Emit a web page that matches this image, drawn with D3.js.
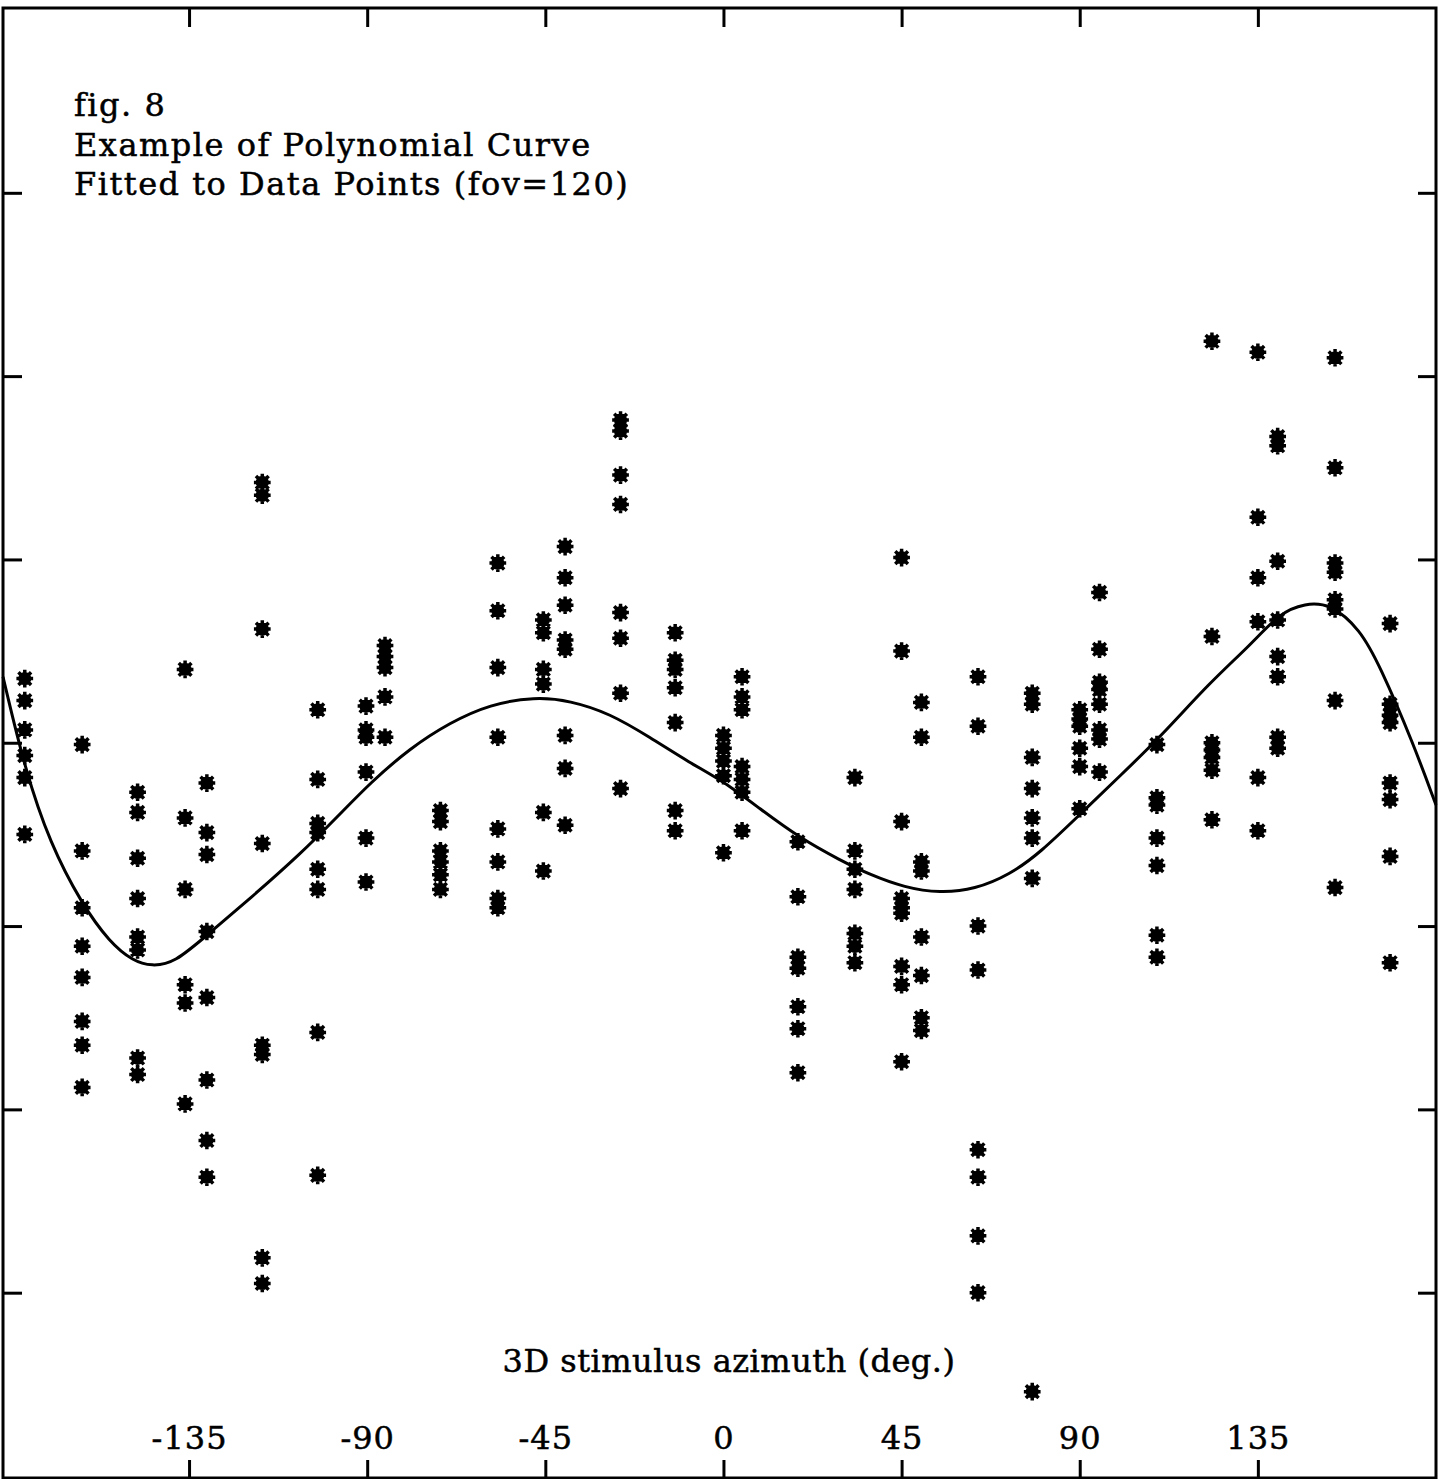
<!DOCTYPE html>
<html>
<head>
<meta charset="utf-8">
<script src="https://cdn.jsdelivr.net/npm/d3@7"></script>
<style>
  body { margin: 0; background: #fff; }
  svg { display: block; }
  text { font-family: "DejaVu Serif", serif; fill: #000; }
</style>
</head>
<body>
<svg width="1438" height="1479"></svg>
<script>
// tick positions on the azimuth axis and their printed labels
var xTicks = [-135, -90, -45, 0, 45, 90, 135];
var xTickLabels = ["-135", "-90", "-45", "0", "45", "90", "135"];
// the vertical axis carries unlabelled ticks only
var yTicks = [1, 2, 3, 4, 5, 6, 7];

var titleLines = ["fig. 8", "Example of Polynomial Curve", "Fitted to Data Points (fov=120)"];
var xTitle = "3D stimulus azimuth (deg.)";

// stimulus azimuths (deg.) for each column of data points, as placed in the plot
var azimuths = [-176.5, -162, -148, -136, -130.5, -116.5, -102.5, -90.3, -85.5, -71.5, -57, -45.5, -40, -26, -12.2,
                0, 4.7, 18.8, 33.2, 45, 50, 64.3, 78, 90, 95, 109.5, 123.4, 135, 140, 154.5, 168.4];

// response values, one list per azimuth column
var responses = [
  [4.35, 4.23, 4.07, 3.93, 3.81, 3.50],
  [3.99, 3.41, 3.10, 2.89, 2.72, 2.48, 2.35, 2.12],
  [3.73, 3.62, 3.37, 3.15, 2.94, 2.87, 2.28, 2.19],
  [4.40, 3.59, 3.20, 2.68, 2.58, 2.03],
  [3.78, 3.51, 3.39, 2.97, 2.61, 2.16, 1.83, 1.63],
  [5.42, 5.35, 4.62, 3.45, 2.35, 2.30, 1.19, 1.05],
  [4.18, 3.80, 3.56, 3.51, 3.31, 3.20, 2.42, 1.64],
  [4.20, 4.07, 4.03, 3.84, 3.48, 3.24],
  [4.53, 4.47, 4.41, 4.25, 4.03],
  [3.63, 3.57, 3.41, 3.35, 3.28, 3.20],
  [4.98, 4.72, 4.41, 4.03, 3.53, 3.35, 3.15, 3.10],
  [4.67, 4.60, 4.40, 4.32, 3.62, 3.30],
  [5.07, 4.90, 4.75, 4.56, 4.51, 4.04, 3.86, 3.55],
  [5.76, 5.70, 5.46, 5.30, 4.71, 4.57, 4.27, 3.75],
  [4.60, 4.45, 4.40, 4.30, 4.11, 3.63, 3.52],
  [4.04, 3.97, 3.90, 3.82, 3.40],
  [4.36, 4.25, 4.18, 3.87, 3.80, 3.73, 3.52],
  [3.46, 3.16, 2.83, 2.77, 2.56, 2.44, 2.20],
  [3.81, 3.41, 3.31, 3.20, 2.96, 2.89, 2.80],
  [5.01, 4.50, 3.57, 3.15, 3.10, 3.07, 2.78, 2.68, 2.26],
  [4.22, 4.03, 3.35, 3.30, 2.94, 2.73, 2.50, 2.43],
  [4.36, 4.09, 3.00, 2.76, 1.78, 1.63, 1.31, 1.00],
  [4.27, 4.21, 3.92, 3.75, 3.59, 3.48, 3.26, 0.46],
  [4.18, 4.13, 4.09, 3.97, 3.87, 3.64],
  [4.82, 4.51, 4.33, 4.29, 4.21, 4.07, 4.02, 3.84],
  [3.99, 3.70, 3.66, 3.48, 3.33, 2.95, 2.83],
  [6.19, 4.58, 4.00, 3.96, 3.92, 3.85, 3.58],
  [6.13, 5.23, 4.90, 4.66, 3.81, 3.52],
  [5.67, 5.62, 4.99, 4.67, 4.47, 4.36, 4.03, 3.97],
  [6.10, 5.50, 4.98, 4.93, 4.78, 4.73, 4.23, 3.21],
  [4.65, 4.21, 4.15, 4.11, 3.78, 3.69, 3.38, 2.80]
];

// fitted polynomial curve
var curveAz = [-182, -176.4, -170.1, -162.1, -155, -149.2, -144.4, -138.6, -130.5, -119.6, -107, -96.9,
               -89.3, -79.2, -69.1, -59, -47.6, -38.8, -28.7, -18.6, -8.5, 0, 9.2, 19.3, 29.4, 37,
               45.8, 54.7, 63.5, 72.3, 80, 90.1, 100.2, 110.3, 122.9, 133, 140.6, 146.9, 153.2,
               160.8, 165.8, 174.2, 180];
var curveVal = [4.36, 3.85, 3.45, 3.12, 2.91, 2.81, 2.78, 2.80, 2.95, 3.15, 3.39, 3.61,
                3.78, 3.97, 4.11, 4.21, 4.25, 4.23, 4.16, 4.03, 3.89, 3.79, 3.64, 3.48, 3.36, 3.28,
                3.21, 3.18, 3.20, 3.28, 3.40, 3.61, 3.82, 4.03, 4.33, 4.53, 4.71, 4.76, 4.76,
                4.62, 4.42, 4.00, 3.66];

var svg = d3.select("svg");

// plot frame edges (note: "top" is reserved on window, so use other names)
var frameL = 3, frameR = 1436, frameT = 8, frameB = 1478;

var xScale = d3.scaleLinear().domain([-182, 180]).range([frameL, frameR]);
var yScale = d3.scaleLinear().domain([0, 8]).range([1476, 9.5]);

// heavy eight-spoked asterisk like the plotter marks
var asterisk = {
  draw: function(ctx, size) {
    var r = Math.sqrt(size) / 2;
    var d = r * 0.72;
    ctx.moveTo(0, -r); ctx.lineTo(0, r);
    ctx.moveTo(-r * 0.95, 0); ctx.lineTo(r * 0.95, 0);
    ctx.moveTo(-d, -d); ctx.lineTo(d, d);
    ctx.moveTo(-d, d); ctx.lineTo(d, -d);
    ctx.moveTo(r * 0.55, 0);
    ctx.arc(0, 0, r * 0.55, 0, 2 * Math.PI);
  }
};

// frame
svg.append("rect")
  .attr("x", frameL).attr("y", frameT)
  .attr("width", frameR - frameL).attr("height", frameB - frameT)
  .attr("fill", "none").attr("stroke", "#000").attr("stroke-width", 3);

// ticks on all four sides, pointing inwards
function styleAxis(g) {
  g.select(".domain").remove();
  g.selectAll(".tick line").attr("stroke", "#000").attr("stroke-width", 3);
  g.selectAll(".tick text")
    .style("font-family", "DejaVu Serif")
    .style("font-size", "32px")
    .style("letter-spacing", "1px")
    .attr("stroke", "#000").attr("stroke-width", 0.5);
}

svg.append("g")
  .attr("transform", "translate(0," + frameB + ")")
  .call(d3.axisTop(xScale).tickValues(xTicks)
        .tickFormat(function(d, i) { return xTickLabels[i]; })
        .tickSize(18).tickPadding(11))
  .call(styleAxis);

svg.append("g")
  .attr("transform", "translate(0," + frameT + ")")
  .call(d3.axisBottom(xScale).tickValues(xTicks).tickFormat("").tickSize(19))
  .call(styleAxis);

svg.append("g")
  .attr("transform", "translate(" + frameL + ",0)")
  .call(d3.axisRight(yScale).tickValues(yTicks).tickFormat("").tickSize(19))
  .call(styleAxis);

svg.append("g")
  .attr("transform", "translate(" + frameR + ",0)")
  .call(d3.axisLeft(yScale).tickValues(yTicks).tickFormat("").tickSize(18))
  .call(styleAxis);

// data points
var points = [];
for (var i = 0; i < azimuths.length; i++)
{
  for (var j = 0; j < responses[i].length; j++)
    points.push({az: azimuths[i], val: responses[i][j]});
}

svg.append("g")
  .selectAll("path")
  .data(points)
  .enter()
  .append("path")
  .attr("d", d3.symbol().type(asterisk).size(310))
  .attr("transform", function(d) { return "translate(" + xScale(d.az) + "," + yScale(d.val) + ")"; })
  .attr("fill", "#000")
  .attr("stroke", "#000")
  .attr("stroke-width", 3.5);

// fitted curve
var curveData = curveAz.map(function(a, i) { return [a, curveVal[i]]; });
var line = d3.line()
  .x(function(d) { return xScale(d[0]); })
  .y(function(d) { return yScale(d[1]); })
  .curve(d3.curveBasis);

svg.append("path")
  .datum(curveData)
  .attr("d", line)
  .attr("fill", "none")
  .attr("stroke", "#000")
  .attr("stroke-width", 3);

// titles
var title = svg.append("text")
  .style("font-size", "32px")
  .style("letter-spacing", "1.5px")
  .attr("stroke", "#000").attr("stroke-width", 0.5);
title.selectAll("tspan")
  .data(titleLines)
  .enter()
  .append("tspan")
  .attr("x", 74)
  .attr("y", function(d, i) { return 116 + i * 39.5; })
  .text(function(d) { return d; });

svg.append("text")
  .attr("x", 729)
  .attr("y", 1372)
  .attr("text-anchor", "middle")
  .style("font-size", "32px")
  .style("letter-spacing", "0.5px")
  .attr("stroke", "#000").attr("stroke-width", 0.5)
  .text(xTitle);
</script>
</body>
</html>
